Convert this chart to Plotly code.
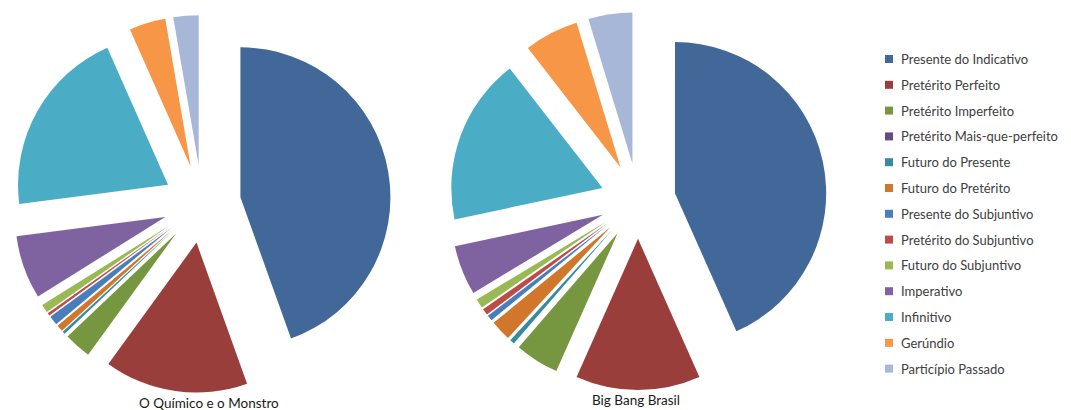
import plotly.graph_objects as go

# browser window and default page margin (8px) offset
WIN_W, WIN_H, OFF = 1071, 410, 8
W, H = WIN_W - OFF, WIN_H - OFF

categories = [
    "Presente do Indicativo", "Pretérito Perfeito", "Pretérito Imperfeito",
    "Pretérito Mais-que-perfeito", "Futuro do Presente", "Futuro do Pretérito",
    "Presente do Subjuntivo", "Pretérito do Subjuntivo", "Futuro do Subjuntivo",
    "Imperativo", "Infinitivo", "Gerúndio", "Particípio Passado",
]
quimico_values = [44.3, 15.4, 2.9, 0.0, 0.3, 0.7, 1.0, 0.3, 0.9, 6.8, 20.3, 3.9, 2.7]
bigbang_values = [43.3, 13.3, 4.7, 0.0, 0.5, 2.2, 0.6, 0.7, 1.0, 5.3, 17.8, 5.8, 4.7]
chart_titles = ["O Químico e o Monstro", "Big Bang Brasil"]

colors = ["#416899", "#9A3E3C", "#76973F", "#634C81", "#368BA0", "#D0772C",
          "#4A7EBB", "#BE4B48", "#98B954", "#7F63A1", "#4BACC6", "#F79646", "#A7B7D8"]

def px(x):
    return min(1.0, max(0.0, (x - OFF) / W))

def py(y):
    return min(1.0, max(0.0, 1 - (y - OFF) / H))

def px_dom(cx, cy, half):
    return dict(x=[px(cx - half), px(cx + half)],
                y=[py(cy + half), py(cy - half)])

fig = go.Figure()
for vals, (cx, cy, half), pull in [
    (quimico_values, (202, 204, 189), 0.26),
    (bigbang_values, (638, 201, 189), 0.25),
]:
    fig.add_trace(go.Pie(
        labels=categories, values=vals, sort=False, direction="clockwise",
        rotation=0, pull=[pull] * len(vals), textinfo="none",
        marker=dict(colors=colors, line=dict(width=0)),
        domain=px_dom(cx, cy, half), showlegend=False,
    ))

font_family = "Lato, 'Open Sans', sans-serif"
annotations = []
shapes = []
# chart captions
for title, (cx, cy) in zip(chart_titles, [(209, 403), (636, 400)]):
    annotations.append(dict(text=title, x=px(cx), y=py(cy), xref="paper", yref="paper",
                            showarrow=False, xanchor="center", yanchor="middle",
                            font=dict(family=font_family, size=13.5, color="#1a1a1a")))
# manual legend
y0, step = 59, 25.8
for i, (cat, col) in enumerate(zip(categories, colors)):
    yy = y0 + i * step
    shapes.append(dict(type="rect", xref="paper", yref="paper",
                       x0=px(885), x1=px(893), y0=py(yy + 4), y1=py(yy - 4),
                       fillcolor=col, line=dict(width=0)))
    annotations.append(dict(text=cat, x=px(899), y=py(yy), xref="paper", yref="paper",
                            showarrow=False, xanchor="left", yanchor="middle",
                            font=dict(family=font_family, size=13, color="#404040")))

fig.update_layout(
    width=W, height=H, margin=dict(l=0, r=0, t=0, b=0),
    paper_bgcolor="white", plot_bgcolor="white",
    annotations=annotations, shapes=shapes, showlegend=False,
)
fig.write_html("out.html")
